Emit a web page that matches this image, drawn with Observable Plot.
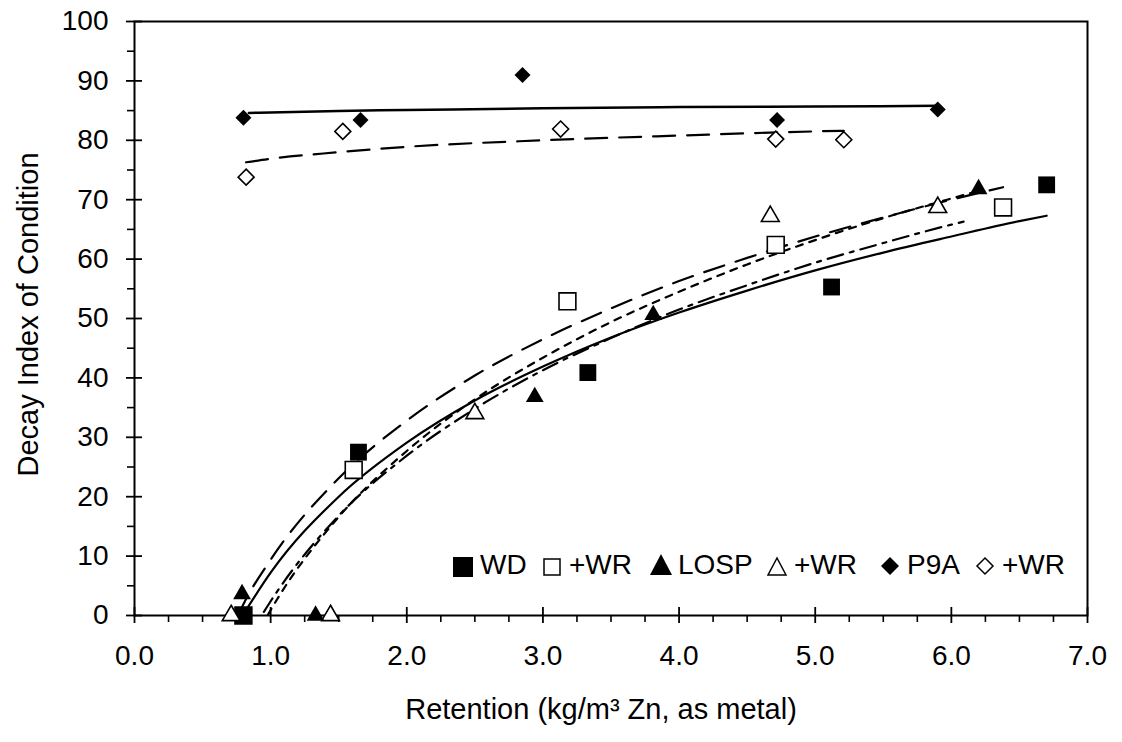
<!DOCTYPE html>
<html><head><meta charset="utf-8">
<script src="https://cdn.jsdelivr.net/npm/d3@7"></script>
<script src="https://cdn.jsdelivr.net/npm/@observablehq/plot@0.6"></script>
<style>
html,body{margin:0;padding:0;background:#fff;overflow:hidden}
#wrap{position:relative;width:1122px;height:742px}
#legend{position:absolute;left:0;top:0;width:1122px;height:742px;pointer-events:none;font-family:"Liberation Sans",Arial,sans-serif;font-size:28px;color:#000}
#legend .it{position:absolute;top:550px;height:30px;line-height:30px;white-space:nowrap}
#legend svg{position:absolute;overflow:visible}
</style></head><body><div id="wrap"></div>
<script>
// ---- data: scatter points ----
const wdX = [0.80, 1.645, 3.33, 5.12, 6.70];
const wdY = [0, 27.5, 40.9, 55.3, 72.5];
const wdwrX = [0.80, 1.61, 3.18, 4.71, 6.38];
const wdwrY = [0, 24.5, 52.9, 62.4, 68.7];
const lospX = [0.79, 1.33, 2.94, 3.81, 6.20];
const lospY = [3.6, 0, 36.8, 50.6, 71.8];
const lospwrX = [0.71, 1.44, 2.50, 4.67, 5.90];
const lospwrY = [0, 0, 34.0, 67.2, 68.7];
const p9aX = [0.80, 1.66, 2.85, 4.72, 5.90];
const p9aY = [83.8, 83.4, 91.0, 83.4, 85.2];
const p9awrX = [0.82, 1.53, 3.13, 4.71, 5.21];
const p9awrY = [73.8, 81.5, 81.9, 80.2, 80.1];

// ---- data: trend curves ----
const wdFitX = [0.80, 1.0, 1.5, 2.0, 2.5, 3.0, 3.5, 4.0, 4.5, 5.0, 5.5, 6.0, 6.5, 6.70];
const wdFitY = [0.2, 7.2, 20.0, 29.1, 36.2, 41.9, 46.8, 51.0, 54.7, 58.1, 61.1, 63.8, 66.4, 67.3];
const wdwrFitX = [0.76, 0.8, 1.0, 1.5, 2.0, 2.5, 3.0, 3.5, 4.0, 4.5, 5.0, 5.5, 6.0, 6.38];
const wdwrFitY = [0, 1.9, 9.4, 23.1, 32.8, 40.4, 46.5, 51.7, 56.3, 60.2, 63.8, 67.0, 70.0, 72.1];
const lospFitX = [0.98, 1.0, 1.5, 2.0, 2.5, 3.0, 3.5, 4.0, 4.5, 5.0, 5.5, 6.0, 6.20];
const lospFitY = [0.1, 0.9, 16.6, 27.7, 36.4, 43.4, 49.4, 54.5, 59.1, 63.2, 66.9, 70.2, 71.5];
const lospwrFitX = [0.95, 1.0, 1.5, 2.0, 2.5, 3.0, 3.5, 4.0, 4.5, 5.0, 5.5, 6.0, 6.09];
const lospwrFitY = [0.6, 2.4, 16.8, 26.9, 34.8, 41.3, 46.7, 51.5, 55.6, 59.4, 62.7, 65.8, 66.3];
const p9aFitX = [0.84, 1.5, 2.0, 3.0, 4.0, 5.0, 5.90];
const p9aFitY = [84.6, 84.95, 85.1, 85.4, 85.6, 85.7, 85.8];
const p9awrFitX = [0.82, 1.0, 1.5, 2.0, 3.0, 4.0, 5.0, 5.21];
const p9awrFitY = [76.3, 76.9, 78.0, 78.9, 80.0, 80.8, 81.5, 81.6];

// ---- axes ----
const xTicks = [0, 1, 2, 3, 4, 5, 6, 7];
const yTicks = [0, 10, 20, 30, 40, 50, 60, 70, 80, 90, 100];
const xMinor = d3.range(0, 7.001, 0.25).filter(v => Math.abs(v - Math.round(v)) > 1e-6);
const yMinor = d3.range(5, 100, 10);

const xLabel = "Retention (kg/m³ Zn, as metal)";
const yLabel = "Decay Index of Condition";

const pts = (xs, ys) => xs.map((x, i) => ({x, y: ys[i]}));

const FONT = "Liberation Sans, Arial, sans-serif";
const FS = 28, FT = 29;
const blank = () => "";

const fitLine = (xs, ys, dash, w) => Plot.line(pts(xs, ys), {
  x: "x", y: "y", stroke: "black", strokeWidth: w, strokeDasharray: dash, curve: "monotone-x"
});

const chart = Plot.plot({
  width: 1122, height: 742,
  marginLeft: 134, marginRight: 35, marginTop: 21, marginBottom: 127,
  x: {domain: [0, 7]},
  y: {domain: [0, 100]},
  style: {fontFamily: FONT, fontSize: FS + "px", color: "black", background: "white", overflow: "visible"},
  marks: [
    Plot.frame({stroke: "black", strokeWidth: 2}),
    Plot.axisX({ticks: xTicks, tickSize: 16, dy: -8, strokeWidth: 1.8, tickFormat: blank, label: null}),
    Plot.axisX({ticks: xMinor, tickSize: 7, strokeWidth: 1.6, tickFormat: blank, label: null}),
    Plot.axisX({ticks: xTicks, tickFormat: d => d.toFixed(1), tickSize: 0, tickPadding: 30, fontSize: FS, label: null}),
    Plot.axisY({ticks: yTicks, tickSize: 16, dx: 8, strokeWidth: 1.8, tickFormat: blank, label: null}),
    Plot.axisY({ticks: yMinor, tickSize: 7, strokeWidth: 1.6, tickFormat: blank, label: null}),
    Plot.axisY({ticks: yTicks, tickSize: 0, tickPadding: 26, fontSize: FS, label: null}),
    Plot.text([xLabel], {frameAnchor: "bottom", dy: 103, dx: -10, fontSize: FT, textAnchor: "middle"}),
    Plot.text([yLabel], {frameAnchor: "left", rotate: -90, dx: -106, dy: -4, fontSize: FT, textAnchor: "middle"}),

    fitLine(p9aFitX, p9aFitY, null, 2.5),
    fitLine(p9awrFitX, p9awrFitY, "22,12", 2.2),
    fitLine(wdFitX, wdFitY, null, 2.2),
    fitLine(wdwrFitX, wdwrFitY, "21,12", 2.2),
    fitLine(lospFitX, lospFitY, "7,7", 2.2),
    fitLine(lospwrFitX, lospwrFitY, "16,7,4,7", 2.2),

    Plot.dot(pts(wdwrX, wdwrY), {x: "x", y: "y", symbol: "square", r: 9.5, fill: "white", stroke: "black", strokeWidth: 1.6}),
    Plot.dot(pts(wdX, wdY), {x: "x", y: "y", symbol: "square", r: 9.5, fill: "black"}),
    Plot.dot(pts(lospwrX, lospwrY), {x: "x", y: "y", symbol: "triangle", r: 6.6, fill: "white", stroke: "black", strokeWidth: 1.6}),
    Plot.dot(pts(lospX, lospY), {x: "x", y: "y", symbol: "triangle", r: 6.6, fill: "black"}),
    Plot.dot(pts(p9awrX, p9awrY), {x: "x", y: "y", symbol: "diamond2", r: 7.2, fill: "white", stroke: "black", strokeWidth: 1.6}),
    Plot.dot(pts(p9aX, p9aY), {x: "x", y: "y", symbol: "diamond2", r: 7.2, fill: "black"})
  ]
});
document.getElementById("wrap").appendChild(chart);

// ---- legend (overlay inside the plot area) ----
const legendItems = [
  {shape: "square", fill: "black", label: "WD", left: 452},
  {shape: "square", fill: "white", label: "+WR", left: 541},
  {shape: "triangle", fill: "black", label: "LOSP", left: 650},
  {shape: "triangle", fill: "white", label: "+WR", left: 766},
  {shape: "diamond", fill: "black", label: "P9A", left: 879},
  {shape: "diamond", fill: "white", label: "+WR", left: 974}
];
const leg = document.createElement("div");
leg.id = "legend";
for (const it of legendItems) {
  const s = document.createElement("div");
  s.className = "it";
  s.style.left = it.left + "px";
  let shape;
  const sw = it.fill === "white" ? 1.5 : 0;
  if (it.shape === "square") {
    const a = it.fill === "black" ? 20 : 16;
    shape = `<rect x="${(22 - a) / 2}" y="${(30 - a) / 2 + 2}" width="${a}" height="${a}" fill="${it.fill}" stroke="black" stroke-width="${sw}"/>`;
  } else if (it.shape === "triangle") {
    const w = it.fill === "black" ? 22 : 18, h = it.fill === "black" ? 21 : 17;
    shape = `<polygon points="${11 - w / 2},${25} ${11 + w / 2},${25} 11,${25 - h}" fill="${it.fill}" stroke="black" stroke-width="${sw}"/>`;
  } else {
    const d = it.fill === "black" ? 9 : 8;
    shape = `<polygon points="11,${16 - d} ${11 + d},16 11,${16 + d} ${11 - d},16" fill="${it.fill}" stroke="black" stroke-width="${sw}"/>`;
  }
  s.innerHTML = `<svg width="22" height="30" style="left:0;top:0">${shape}</svg><span style="position:absolute;left:28px;top:0">${it.label}</span>`;
  leg.appendChild(s);
}
document.getElementById("wrap").appendChild(leg);
</script>
</body></html>
